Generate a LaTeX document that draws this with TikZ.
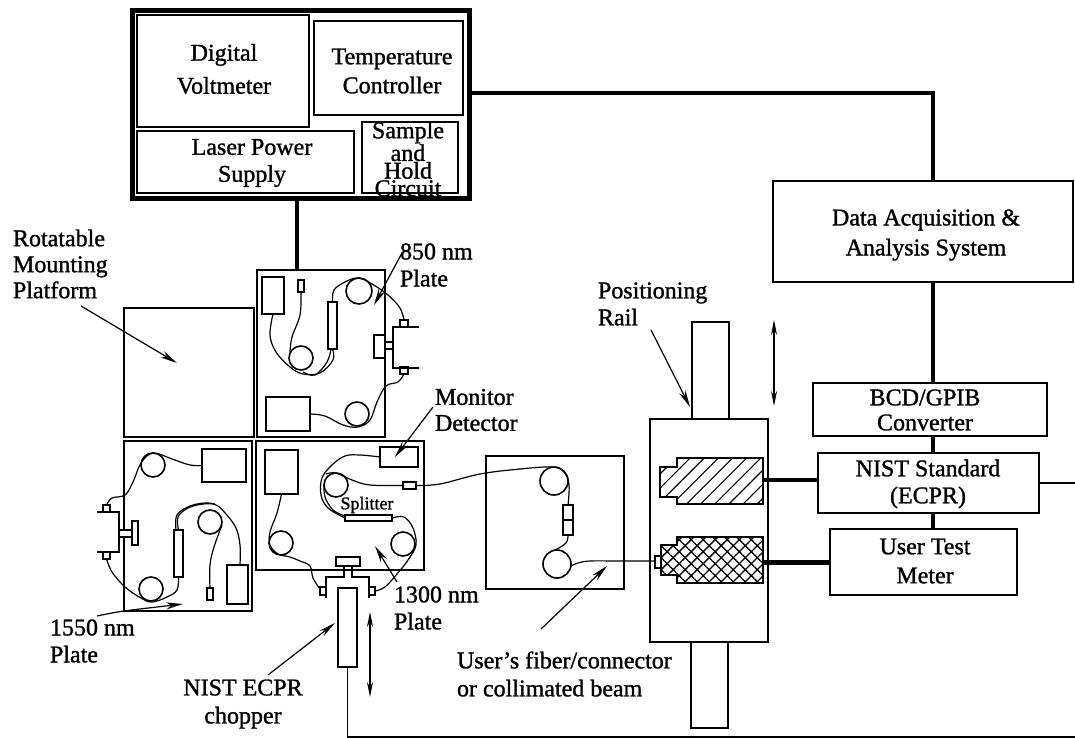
\documentclass[tikz,border=0pt]{standalone}
\usepackage{fontspec}
\setmainfont{Liberation Serif}[RawFeature={embolden=1.2}]
\usetikzlibrary{arrows.meta,patterns.meta}
\tikzset{
  x=1pt,y=-1pt,
  rect/.style={draw=black,rectangle,inner sep=0pt,outer sep=0pt,line width=2.8pt,fill=white},
  thinrect/.style={rect,line width=2.4pt},
  ring/.style={draw=black,circle,inner sep=0pt,outer sep=0pt,line width=1.6pt},
  fiber/.style={line width=1.2pt,black},
  wire/.style={line width=4.5pt,black},
  thinwire/.style={line width=2pt,black},
  pointer/.style={line width=1.2pt,black,-{Stealth[length=17pt,width=7pt]}},
  twoway/.style={line width=1.2pt,black,{Stealth[length=15pt,width=6pt]}-{Stealth[length=15pt,width=6pt]}},
  lbl/.style={inner sep=0pt,outer sep=0pt,align=center,font=\fontsize{24}{#1}\selectfont},
  lbll/.style={inner sep=0pt,outer sep=0pt,align=left,font=\fontsize{24}{#1}\selectfont},
  hatchA/.style={pattern={Lines[angle=45,distance=10pt,line width=1.1pt]},draw=black,line width=2.6pt},
  hatchB/.style={pattern={Hatch[angle=45,distance=8.5pt,line width=1.3pt]},draw=black,line width=2.6pt},
}
\newcommand\bx[6][]{\pgfmathsetmacro\bxw{#5-#3}\pgfmathsetmacro\bxh{#6-#4}%
  \node[rect,minimum width=\bxw pt,minimum height=\bxh pt,#1] (#2) at ({(#3+#5)/2},{(#4+#6)/2}) {};}
\newcommand\coil[4]{\pgfmathsetmacro\bxw{2*#4}\node[ring,minimum size=\bxw pt] (#1) at (#2,#3) {};}
\begin{document}
\begin{tikzpicture}
\useasboundingbox[fill=white] (0,0) rectangle (1075,738);

% --- instrument rack
\bx[line width=5pt]{rack}{132}{11}{469}{198}
\bx{dvm}{137}{15}{309}{127}
\bx{tc}{314}{21}{463}{115}
\bx{lps}{137}{131}{354}{193}
\bx{sh}{362}{122}{458}{193}
\node[lbl=33] at (224,69) {Digital\\Voltmeter};
\node[lbl=29] at (392,71) {Temperature\\Controller};
\node[lbl=27] at (252,163) {Laser Power\\Supply};
\node[lbl=17.6] at (408,159) {Sample\\and\\Hold\\Circuit};

% --- right hand instruments
\bx{daq}{773}{181}{1073}{282}
\bx{bcd}{813}{383}{1047}{436}
\bx{nist}{818}{453}{1039}{513}
\bx{utm}{830}{529}{1017}{595}
\node[lbl=30] at (926,235) {Data Acquisition \&\\Analysis System};
\node[lbl=25] at (925,410) {BCD/GPIB\\Converter};
\node[lbl=27] at (928,484) {NIST Standard\\(ECPR)};
\node[lbl=29] at (925,561) {User Test\\Meter};

% --- platform and plates
\bx{rot}{124}{308}{254}{437}
\bx{p850}{257}{270}{385}{437}
\bx{p1550}{124}{441}{252}{611}
\bx{p1300}{256}{441}{424}{570}
\bx{puser}{486}{456}{624}{589}

% --- rail and carriage
\bx{railtop}{692}{322}{729}{419}
\bx{railbot}{691}{642}{728}{728}
\bx{cart}{650}{419}{768}{642}

% --- 850 plate parts
\bx[thinrect]{a1}{262}{277}{284}{314}
\bx[thinrect]{a2}{298}{280}{304}{292}
\bx[thinrect]{a3}{328}{302}{337}{349}
\bx[thinrect]{a4}{266}{397}{310}{431}
\coil{ac1}{359}{291}{13}
\coil{ac2}{301}{358}{12}
\coil{ac3}{357}{414}{12}
\bx[thinrect]{an1}{400}{320}{408}{327}
\bx[thinrect]{an2}{400}{367}{408}{374}
\bx[thinrect]{aplate}{374}{335}{385}{358}
\draw[line width=2.6pt] (419,327) -- (393,327) -- (393,368) -- (419,368);
\draw[line width=2.6pt,fill=white] (385,342) rectangle (393,349);
\draw[fiber] plot[smooth,tension=.6] coordinates {(a1.south) (270,335) (276,352) (290,367) (303,374) (320,373) (333,360) (a3.south)};
\draw[fiber] plot[smooth,tension=.6] coordinates {(a2.south) (300,315) (292,337) (290,352)};
\draw[fiber] plot[smooth,tension=.6] coordinates {(303,372) (315,375) (327,362) (331,349)};
\draw[fiber] plot[smooth,tension=.6] coordinates {(a3.north) (334,290) (345,282) (358,278) (372,284) (388,295) (400,308) (an1.north)};
\draw[fiber] plot[smooth,tension=.6] coordinates {(a4.east) (325,416) (343,425) (358,427) (370,420) (377,402) (386,386) (398,382) (an2.south)};

% --- 1550 plate parts
\bx[thinrect]{b1}{202}{449}{246}{482}
\bx[thinrect]{b2}{174}{530}{183}{577}
\bx[thinrect]{b3}{207}{588}{213}{600}
\bx[thinrect]{b4}{227}{565}{248}{604}
\coil{bc1}{153}{465}{12}
\coil{bc2}{210}{522}{12}
\coil{bc3}{151}{589}{12}
\bx[thinrect]{bn1}{103}{505}{110}{512}
\bx[thinrect]{bn2}{103}{552}{110}{559}
\bx[thinrect]{bplate}{132}{521}{138}{545}
\draw[line width=2.6pt] (97,512) -- (119,512) -- (119,552) -- (97,552);
\draw[line width=2.6pt,fill=white] (119,530) rectangle (132,537);
\draw[fiber] plot[smooth,tension=.6] coordinates {(bn1.north) (112,498) (125,495) (133,482) (141,463) (153,453) (172,459) (190,465) (b1.west)};
\draw[fiber] plot[smooth,tension=.6] coordinates {(bn2.south) (112,572) (125,587) (141,598) (152,602) (167,597) (177,590) (b2.south)};
\draw[fiber] plot[smooth,tension=.6] coordinates {(b2.north) (178,517) (188,508) (203,504) (216,505) (226,514) (236,528) (240,545) (240,565)};
\draw[fiber] plot[smooth,tension=.6] coordinates {(176,530) (177,515) (190,506) (205,503) (215,504)};
\draw[fiber] plot[smooth,tension=.6] coordinates {(b3.north) (210,565) (214,547) (222,525)};

% --- 1300 plate parts
\bx[thinrect]{c1}{265}{450}{298}{494}
\bx[thinrect]{c2}{380}{447}{418}{467}
\bx[thinrect]{c3}{403}{482}{416}{489}
\bx[thinrect]{split}{345}{515}{392}{521}
\coil{cc1}{281}{543}{12}
\coil{cc2}{336}{485}{12}
\coil{cc3}{403}{544}{12}
\node[inner sep=0pt,font=\fontsize{18}{20}\selectfont] (splab) at (367,505) {Splitter};
\draw[fiber] plot[smooth,tension=.6] coordinates {(c1.south) (277,513) (270,532) (270,545) (278,554) (290,557) (300,561) (310,566) (313,578) (320,589)};
\draw[fiber] plot[smooth,tension=.6] coordinates {(c2.west) (360,455) (345,456) (332,465) (322,478) (321,495) (328,508) (345,518)};
\draw[fiber] plot[smooth,tension=.6] coordinates {(324,484) (325,497) (333,510) (345,516)};
\draw[fiber] plot[smooth,tension=.6] coordinates {(326,474) (336,473) (352,480) (370,485) (c3.west)};
\draw[fiber] plot[smooth,tension=.6] coordinates {(split.east) (404,517) (413,528) (416,545) (408,560) (397,574) (385,587) (375,591)};
\bx[thinrect]{chtop}{336}{557}{360}{566}
\bx[thinrect]{cn1}{320}{587}{326}{595}
\bx[thinrect]{cn2}{369}{587}{375}{595}
\draw[line width=2.6pt] (326,598) -- (326,577) -- (344,577) -- (344,566) (352,566) -- (352,577) -- (369,577) -- (369,598);
\bx[thinrect]{chopper}{338}{588}{357}{667}

% --- user plate parts
\coil{dc1}{554}{481}{14}
\coil{dc2}{557}{564}{14}
\bx[thinrect]{d1}{563}{505}{573}{535}
\draw[line width=2pt] (d1.west) -- (d1.east);
\draw[fiber] plot[smooth,tension=.6] coordinates {(c3.east) (440,484) (480,474) (520,469) (552,467) (564,472) (569,485) (d1.north)};
\draw[fiber] plot[smooth,tension=.6] coordinates {(d1.south) (566,543) (555,550)};
\draw[fiber] plot[smooth,tension=.6] coordinates {(571,566) (578,563) (590,561) (620,561) (655,561)};

% --- detector heads
\node[inner sep=0pt,outer sep=0pt,minimum width=86pt,minimum height=46pt] (head1) at (720,480) {};
\node[inner sep=0pt,outer sep=0pt,minimum width=86pt,minimum height=46pt] (head2) at (720,562) {};
\path[hatchA] (660,467) -- (677,467) -- (677,458) -- (763,458) -- (763,504) -- (677,504) -- (677,497) -- (660,497) -- cycle;
\path[hatchB] (661,545) -- (677,545) -- (677,537) -- (763,537) -- (763,583) -- (677,583) -- (677,575) -- (661,575) -- cycle;
\bx[thinrect]{tip}{655}{556}{661}{568}

% --- wiring
\coordinate (busA) at (933,93);
\draw[wire] (rack.east |- busA) -- (busA) -- (daq.north -| busA);
\draw[wire] (daq.south -| busA) -- (bcd.north -| busA);
\draw[wire] (bcd.south -| busA) -- (nist.north -| busA);
\draw[wire] (nist.south -| busA) -- (utm.north -| busA);
\coordinate (busB) at (297,198);
\draw[wire] (busB) -- (p850.north -| busB);
\draw[wire] (head1.east) -- (nist.west |- head1.east);
\draw[wire,line width=5pt] (head2.east) -- (utm.west |- head2.east);
\coordinate (rightend) at (1075,483);
\coordinate (botend) at (1075,737);
\draw[thinwire] (nist.east |- rightend) -- (rightend);
\draw[thinwire,line width=1.6pt] (chopper.south) -- (chopper.south |- botend) -- (botend);

% --- labels and pointers
\node[lbll=26,anchor=west] (lrot) at (13,264) {Rotatable\\Mounting\\Platform};
\draw[pointer] (81,306) -- (177,363);
\node[lbll=27,anchor=west] (l850) at (400,265) {850 nm\\Plate};
\draw[pointer] (402,253) -- (374,305);
\node[lbll=26,anchor=west] (lmon) at (435,410) {Monitor\\Detector};
\draw[pointer] (433,407) -- (395,457);
\node[lbll=27,anchor=west] (lpos) at (598,304) {Positioning\\Rail};
\draw[pointer] (651,330) -- (690,407);
\node[lbll=27,anchor=west] (l1300) at (394,608) {1300 nm\\Plate};
\draw[pointer] (397,582) -- (375,546);
\node[lbll=27,anchor=west] (l1550) at (50,641) {1550 nm\\Plate};
\draw[pointer] plot[smooth] coordinates {(97,616) (124,611) (183,604)};
\node[lbl=28] (lchop) at (243,704) {NIST ECPR\\chopper};
\draw[pointer] (268,675) -- (335,623);
\node[lbll=28,anchor=west] (luser) at (457,674) {User's fiber/connector\\or collimated beam};
\draw[pointer] (541,629) -- (607,566);
\draw[twoway] (370,612) -- (370,697);
\draw[twoway] (774,320) -- (774,406);
\end{tikzpicture}
\end{document}
